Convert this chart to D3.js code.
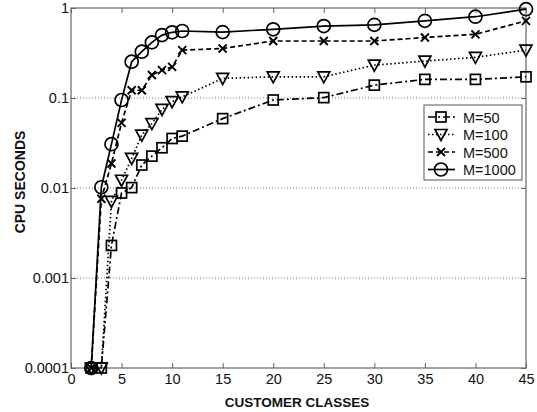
<!DOCTYPE html>
<html lang="en">
<head>
    <meta charset="UTF-8">
    <title>CPU seconds vs customer classes</title>
    <script src="https://d3js.org/d3.v7.min.js"></script>
    <style>
        body { margin: 0; background: white; }
        text { font-family: "Liberation Sans", Arial, sans-serif; fill: #111; }
    </style>
</head>
<body>
    <script>
        var classes = [2, 3, 4, 5, 6, 7, 8, 9, 10, 11, 15, 20, 25, 30, 35, 40, 45];
        var m50   = [0.0001, 0.0001, 0.0023, 0.0088, 0.0101, 0.018, 0.0226, 0.028, 0.0355, 0.0377, 0.059, 0.095, 0.101, 0.139, 0.161, 0.161, 0.172];
        var m100  = [0.0001, 0.0001, 0.0071, 0.0122, 0.0213, 0.0387, 0.052, 0.0746, 0.091, 0.103, 0.165, 0.172, 0.172, 0.232, 0.257, 0.283, 0.34];
        var m500  = [0.0001, 0.0076, 0.0187, 0.053, 0.122, 0.122, 0.18, 0.204, 0.222, 0.34, 0.355, 0.43, 0.43, 0.43, 0.47, 0.51, 0.72];
        var m1000 = [0.0001, 0.0102, 0.0307, 0.095, 0.253, 0.327, 0.415, 0.5, 0.537, 0.555, 0.54, 0.58, 0.63, 0.65, 0.72, 0.80, 0.97];
        var seriesNames = ["M=50", "M=100", "M=500", "M=1000"];
        var xTicks = [0, 5, 10, 15, 20, 25, 30, 35, 40, 45];
        var yTicks = [0.0001, 0.001, 0.01, 0.1, 1];
        var yTickLabels = ["0.0001", "0.001", "0.01", "0.1", "1"];

        var W = 537, H = 412;
        var padL = 71, padR = 526, padT = 8, padB = 368;

        var svg = d3.select("body").append("svg")
            .attr("width", W)
            .attr("height", H);

        var x = d3.scaleLinear().domain([0, 45]).range([padL, padR]);
        var y = d3.scaleLog().domain([0.0001, 1]).range([padB, padT]);

        // horizontal dotted grid
        svg.selectAll("line.grid")
            .data(yTicks.slice(1, 4))
            .enter().append("line")
            .attr("x1", padL).attr("x2", padR)
            .attr("y1", d => y(d)).attr("y2", d => y(d))
            .style("stroke", "#777")
            .style("stroke-width", 1)
            .style("stroke-dasharray", "1,2");

        // axes with inward ticks
        var tickStyle = function(g) {
            g.select(".domain").remove();
            g.selectAll("line").style("stroke", "#666");
            g.selectAll("text").style("font-size", "14.5px").style("fill", "#111");
        };
        svg.append("g").attr("transform", "translate(0," + padB + ")")
            .call(d3.axisBottom(x).tickValues(xTicks).tickSizeInner(-5).tickSizeOuter(0).tickPadding(6))
            .call(tickStyle);
        svg.append("g").attr("transform", "translate(0," + padT + ")")
            .call(d3.axisTop(x).tickValues(xTicks).tickSizeInner(-5).tickSizeOuter(0).tickFormat(""))
            .call(tickStyle);
        svg.append("g").attr("transform", "translate(" + padL + ",0)")
            .call(d3.axisLeft(y).tickValues(yTicks).tickSizeInner(-5).tickSizeOuter(0).tickPadding(2)
                .tickFormat((d, i) => yTickLabels[i]))
            .call(tickStyle);
        svg.append("g").attr("transform", "translate(" + padR + ",0)")
            .call(d3.axisRight(y).tickValues(yTicks).tickSizeInner(-5).tickSizeOuter(0).tickFormat(""))
            .call(tickStyle);

        svg.append("rect")
            .attr("x", padL).attr("y", padT)
            .attr("width", padR - padL).attr("height", padB - padT)
            .style("fill", "none")
            .style("stroke", "#666")
            .style("stroke-width", 1.2);

        var dashes = ["7,3,2,3", "1.5,2.5", "5,3", null];
        var shapes = ["square", "triangle", "cross", "circle"];
        var allSeries = [m50, m100, m500, m1000];

        function drawMarker(g, shape, cx, cy) {
            var s = g.append("g").attr("transform", "translate(" + cx + "," + cy + ")");
            var st = { fill: "none", stroke: "#000", "stroke-width": 1.7 };
            var el;
            if (shape === "square") {
                el = s.append("rect").attr("x", -5).attr("y", -5).attr("width", 10).attr("height", 10);
            } else if (shape === "triangle") {
                el = s.append("path").attr("d", "M-6,-5L6,-5L0,6Z");
            } else if (shape === "cross") {
                el = s.append("path").attr("d", "M-4,-4L4,4M-4,4L4,-4");
                st["stroke-width"] = 1.9;
            } else {
                el = s.append("circle").attr("r", 6.5);
            }
            for (var k in st) el.style(k, st[k]);
        }

        var line = d3.line()
            .x(d => x(d[0]))
            .y(d => y(d[1]));

        allSeries.forEach(function(vals, i) {
            var pts = classes.map((c, j) => [c, vals[j]]);
            svg.append("path")
                .datum(pts)
                .attr("d", line)
                .style("fill", "none")
                .style("stroke", "#000")
                .style("stroke-width", 1.7)
                .style("stroke-dasharray", dashes[i]);
            var g = svg.append("g");
            pts.forEach(p => drawMarker(g, shapes[i], x(p[0]), y(p[1])));
        });

        // legend
        var lx = 424, ly = 105, lw = 98, lh = 75;
        svg.append("rect")
            .attr("x", lx).attr("y", ly).attr("width", lw).attr("height", lh)
            .style("fill", "white")
            .style("stroke", "#555")
            .style("stroke-width", 1);
        seriesNames.forEach(function(name, i) {
            var yy = ly + 12 + i * 17.5;
            svg.append("line")
                .attr("x1", lx + 4).attr("x2", lx + 31)
                .attr("y1", yy).attr("y2", yy)
                .style("stroke", "#000")
                .style("stroke-width", 1.7)
                .style("stroke-dasharray", dashes[i]);
            drawMarker(svg, shapes[i], lx + 17, yy);
            svg.append("text")
                .attr("x", lx + 39).attr("y", yy + 5.5)
                .style("font-size", "14.5px")
                .text(name);
        });

        // axis titles
        svg.append("text")
            .attr("x", 297).attr("y", 407)
            .attr("text-anchor", "middle")
            .style("font-size", "13.5px")
            .style("font-weight", "bold")
            .text("CUSTOMER CLASSES");
        svg.append("text")
            .attr("transform", "translate(25,182) rotate(-90)")
            .attr("text-anchor", "middle")
            .style("font-size", "14px")
            .style("font-weight", "bold")
            .text("CPU SECONDS");
    </script>
</body>
</html>
